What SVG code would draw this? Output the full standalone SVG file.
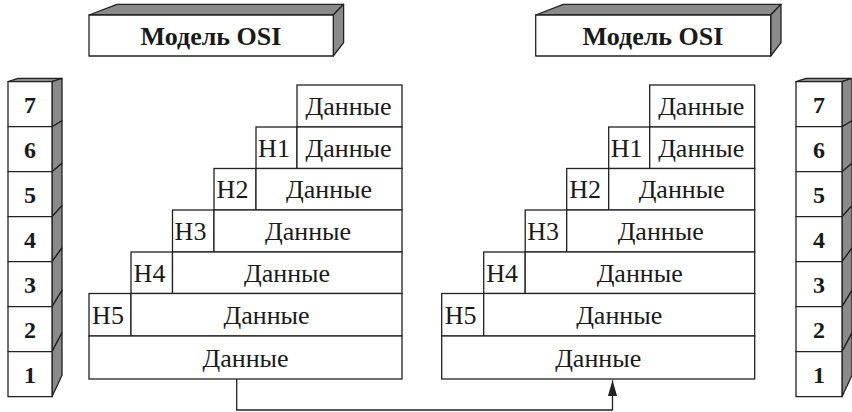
<svg xmlns="http://www.w3.org/2000/svg" width="852" height="412" viewBox="0 0 852 412">
<defs>
  <marker id="arr" viewBox="0 0 16 9.2" refX="16" refY="4.6" markerWidth="16" markerHeight="9.2" markerUnits="userSpaceOnUse" orient="auto">
    <path d="M0,0 L16,4.6 L0,9.2 z" fill="#222"/>
  </marker>
</defs>

<!-- Banners -->
<g id="banner-left" stroke="#222" stroke-width="1.3" stroke-linejoin="round">
  <polygon fill="#8a8a8a" points="89,15 117,4.3 343.6,4.3 333.3,15"/>
  <polygon fill="#8a8a8a" points="333.3,15 343.6,4.3 343.6,42.7 333.3,56"/>
  <rect fill="#fff" x="89" y="15" width="244.3" height="41"/>
</g>
<text x="211" y="45" font-family="Liberation Serif" font-size="26" font-weight="bold" fill="#1a1a1a" text-anchor="middle">Модель OSI</text>
<g id="banner-right" stroke="#222" stroke-width="1.3" stroke-linejoin="round">
  <polygon fill="#8a8a8a" points="535.7,15 563.3,4.3 781,4.3 770.7,15"/>
  <polygon fill="#8a8a8a" points="770.7,15 781,4.3 781,42.7 770.7,56"/>
  <rect fill="#fff" x="535.7" y="15" width="235" height="41"/>
</g>
<text x="653" y="45" font-family="Liberation Serif" font-size="26" font-weight="bold" fill="#1a1a1a" text-anchor="middle">Модель OSI</text>

<!-- Left layer stack -->
<g id="layers-left" stroke="#222" stroke-width="1.3" stroke-linejoin="round">
  <polygon fill="#8a8a8a" points="8,81.7 18,78.4 62,78.4 52,81.7"/>
  <polygon fill="#8a8a8a" points="52,81.7 62,78.4 62,120.8 52,126.7"/>
  <polygon fill="#8a8a8a" points="52,126.7 62,120.8 62,163.2 52,171.7"/>
  <polygon fill="#8a8a8a" points="52,171.7 62,163.2 62,205.6 52,216.7"/>
  <polygon fill="#8a8a8a" points="52,216.7 62,205.6 62,248 52,261.7"/>
  <polygon fill="#8a8a8a" points="52,261.7 62,248 62,290.4 52,306.7"/>
  <polygon fill="#8a8a8a" points="52,306.7 62,290.4 62,332.8 52,351.7"/>
  <polygon fill="#8a8a8a" points="52,351.7 62,332.8 62,375.2 52,396.7"/>
  <rect fill="#fff" x="8" y="81.7" width="44" height="45"/>
  <rect fill="#fff" x="8" y="126.7" width="44" height="45"/>
  <rect fill="#fff" x="8" y="171.7" width="44" height="45"/>
  <rect fill="#fff" x="8" y="216.7" width="44" height="45"/>
  <rect fill="#fff" x="8" y="261.7" width="44" height="45"/>
  <rect fill="#fff" x="8" y="306.7" width="44" height="45"/>
  <rect fill="#fff" x="8" y="351.7" width="44" height="45"/>
</g>
<text x="30" y="112.7" font-family="Liberation Serif" font-size="24" font-weight="bold" fill="#1a1a1a" text-anchor="middle">7</text>
<text x="30" y="157.7" font-family="Liberation Serif" font-size="24" font-weight="bold" fill="#1a1a1a" text-anchor="middle">6</text>
<text x="30" y="202.7" font-family="Liberation Serif" font-size="24" font-weight="bold" fill="#1a1a1a" text-anchor="middle">5</text>
<text x="30" y="247.7" font-family="Liberation Serif" font-size="24" font-weight="bold" fill="#1a1a1a" text-anchor="middle">4</text>
<text x="30" y="292.7" font-family="Liberation Serif" font-size="24" font-weight="bold" fill="#1a1a1a" text-anchor="middle">3</text>
<text x="30" y="337.7" font-family="Liberation Serif" font-size="24" font-weight="bold" fill="#1a1a1a" text-anchor="middle">2</text>
<text x="30" y="382.7" font-family="Liberation Serif" font-size="24" font-weight="bold" fill="#1a1a1a" text-anchor="middle">1</text>

<!-- Right layer stack -->
<g id="layers-right" stroke="#222" stroke-width="1.3" stroke-linejoin="round">
  <polygon fill="#8a8a8a" points="796,81.7 806,78.4 852,78.4 842,81.7"/>
  <polygon fill="#8a8a8a" points="842,81.7 852,78.4 852,120.8 842,126.7"/>
  <polygon fill="#8a8a8a" points="842,126.7 852,120.8 852,163.2 842,171.7"/>
  <polygon fill="#8a8a8a" points="842,171.7 852,163.2 852,205.6 842,216.7"/>
  <polygon fill="#8a8a8a" points="842,216.7 852,205.6 852,248 842,261.7"/>
  <polygon fill="#8a8a8a" points="842,261.7 852,248 852,290.4 842,306.7"/>
  <polygon fill="#8a8a8a" points="842,306.7 852,290.4 852,332.8 842,351.7"/>
  <polygon fill="#8a8a8a" points="842,351.7 852,332.8 852,375.2 842,396.7"/>
  <rect fill="#fff" x="796" y="81.7" width="46" height="45"/>
  <rect fill="#fff" x="796" y="126.7" width="46" height="45"/>
  <rect fill="#fff" x="796" y="171.7" width="46" height="45"/>
  <rect fill="#fff" x="796" y="216.7" width="46" height="45"/>
  <rect fill="#fff" x="796" y="261.7" width="46" height="45"/>
  <rect fill="#fff" x="796" y="306.7" width="46" height="45"/>
  <rect fill="#fff" x="796" y="351.7" width="46" height="45"/>
</g>
<text x="819" y="112.7" font-family="Liberation Serif" font-size="24" font-weight="bold" fill="#1a1a1a" text-anchor="middle">7</text>
<text x="819" y="157.7" font-family="Liberation Serif" font-size="24" font-weight="bold" fill="#1a1a1a" text-anchor="middle">6</text>
<text x="819" y="202.7" font-family="Liberation Serif" font-size="24" font-weight="bold" fill="#1a1a1a" text-anchor="middle">5</text>
<text x="819" y="247.7" font-family="Liberation Serif" font-size="24" font-weight="bold" fill="#1a1a1a" text-anchor="middle">4</text>
<text x="819" y="292.7" font-family="Liberation Serif" font-size="24" font-weight="bold" fill="#1a1a1a" text-anchor="middle">3</text>
<text x="819" y="337.7" font-family="Liberation Serif" font-size="24" font-weight="bold" fill="#1a1a1a" text-anchor="middle">2</text>
<text x="819" y="382.7" font-family="Liberation Serif" font-size="24" font-weight="bold" fill="#1a1a1a" text-anchor="middle">1</text>

<!-- Left encapsulation -->
<g id="encap-left" fill="#fff" stroke="#222" stroke-width="1.3">
  <rect x="297" y="85" width="105" height="42"/>
  <rect x="256" y="127" width="41" height="41.5"/>
  <rect x="297" y="127" width="105" height="41.5"/>
  <rect x="214" y="168.5" width="42" height="41.5"/>
  <rect x="256" y="168.5" width="146" height="41.5"/>
  <rect x="172.5" y="210" width="41.5" height="42"/>
  <rect x="214" y="210" width="188" height="42"/>
  <rect x="131" y="252" width="41.5" height="41.5"/>
  <rect x="172.5" y="252" width="229.5" height="41.5"/>
  <rect x="89" y="293.5" width="42" height="42.5"/>
  <rect x="131" y="293.5" width="271" height="42.5"/>
  <rect x="89" y="336" width="313" height="43"/>
</g>
<text x="348.5" y="115" font-family="Liberation Serif" font-size="26" fill="#1a1a1a" text-anchor="middle">Данные</text>
<text x="274" y="156.8" font-family="Liberation Serif" font-size="26" fill="#1a1a1a" text-anchor="middle">H1</text>
<text x="348.5" y="156.8" font-family="Liberation Serif" font-size="26" fill="#1a1a1a" text-anchor="middle">Данные</text>
<text x="232.5" y="198.3" font-family="Liberation Serif" font-size="26" fill="#1a1a1a" text-anchor="middle">H2</text>
<text x="329" y="198.3" font-family="Liberation Serif" font-size="26" fill="#1a1a1a" text-anchor="middle">Данные</text>
<text x="190.5" y="240" font-family="Liberation Serif" font-size="26" fill="#1a1a1a" text-anchor="middle">H3</text>
<text x="308" y="240" font-family="Liberation Serif" font-size="26" fill="#1a1a1a" text-anchor="middle">Данные</text>
<text x="149.5" y="281.8" font-family="Liberation Serif" font-size="26" fill="#1a1a1a" text-anchor="middle">H4</text>
<text x="287" y="281.8" font-family="Liberation Serif" font-size="26" fill="#1a1a1a" text-anchor="middle">Данные</text>
<text x="108" y="323.8" font-family="Liberation Serif" font-size="26" fill="#1a1a1a" text-anchor="middle">H5</text>
<text x="266.5" y="323.8" font-family="Liberation Serif" font-size="26" fill="#1a1a1a" text-anchor="middle">Данные</text>
<text x="245.5" y="366.5" font-family="Liberation Serif" font-size="26" fill="#1a1a1a" text-anchor="middle">Данные</text>

<!-- Right encapsulation -->
<g id="encap-right" fill="#fff" stroke="#222" stroke-width="1.3">
  <rect x="649.7" y="85" width="105" height="42"/>
  <rect x="608.7" y="127" width="41" height="41.5"/>
  <rect x="649.7" y="127" width="105" height="41.5"/>
  <rect x="566.7" y="168.5" width="42" height="41.5"/>
  <rect x="608.7" y="168.5" width="146" height="41.5"/>
  <rect x="525.2" y="210" width="41.5" height="42"/>
  <rect x="566.7" y="210" width="188" height="42"/>
  <rect x="483.7" y="252" width="41.5" height="41.5"/>
  <rect x="525.2" y="252" width="229.5" height="41.5"/>
  <rect x="441.7" y="293.5" width="42" height="42.5"/>
  <rect x="483.7" y="293.5" width="271" height="42.5"/>
  <rect x="441.7" y="336" width="313" height="43"/>
</g>
<text x="701.2" y="115" font-family="Liberation Serif" font-size="26" fill="#1a1a1a" text-anchor="middle">Данные</text>
<text x="626.7" y="156.8" font-family="Liberation Serif" font-size="26" fill="#1a1a1a" text-anchor="middle">H1</text>
<text x="701.2" y="156.8" font-family="Liberation Serif" font-size="26" fill="#1a1a1a" text-anchor="middle">Данные</text>
<text x="585.2" y="198.3" font-family="Liberation Serif" font-size="26" fill="#1a1a1a" text-anchor="middle">H2</text>
<text x="681.7" y="198.3" font-family="Liberation Serif" font-size="26" fill="#1a1a1a" text-anchor="middle">Данные</text>
<text x="543.2" y="240" font-family="Liberation Serif" font-size="26" fill="#1a1a1a" text-anchor="middle">H3</text>
<text x="660.7" y="240" font-family="Liberation Serif" font-size="26" fill="#1a1a1a" text-anchor="middle">Данные</text>
<text x="502.2" y="281.8" font-family="Liberation Serif" font-size="26" fill="#1a1a1a" text-anchor="middle">H4</text>
<text x="639.7" y="281.8" font-family="Liberation Serif" font-size="26" fill="#1a1a1a" text-anchor="middle">Данные</text>
<text x="460.7" y="323.8" font-family="Liberation Serif" font-size="26" fill="#1a1a1a" text-anchor="middle">H5</text>
<text x="619.2" y="323.8" font-family="Liberation Serif" font-size="26" fill="#1a1a1a" text-anchor="middle">Данные</text>
<text x="598.2" y="366.5" font-family="Liberation Serif" font-size="26" fill="#1a1a1a" text-anchor="middle">Данные</text>

<!-- Connectors -->
<g id="connectors">
  <path fill="none" stroke="#222" stroke-width="1.3" d="M236.7,379 V410 H612.5 V380.2" marker-end="url(#arr)"/>
</g>
</svg>
